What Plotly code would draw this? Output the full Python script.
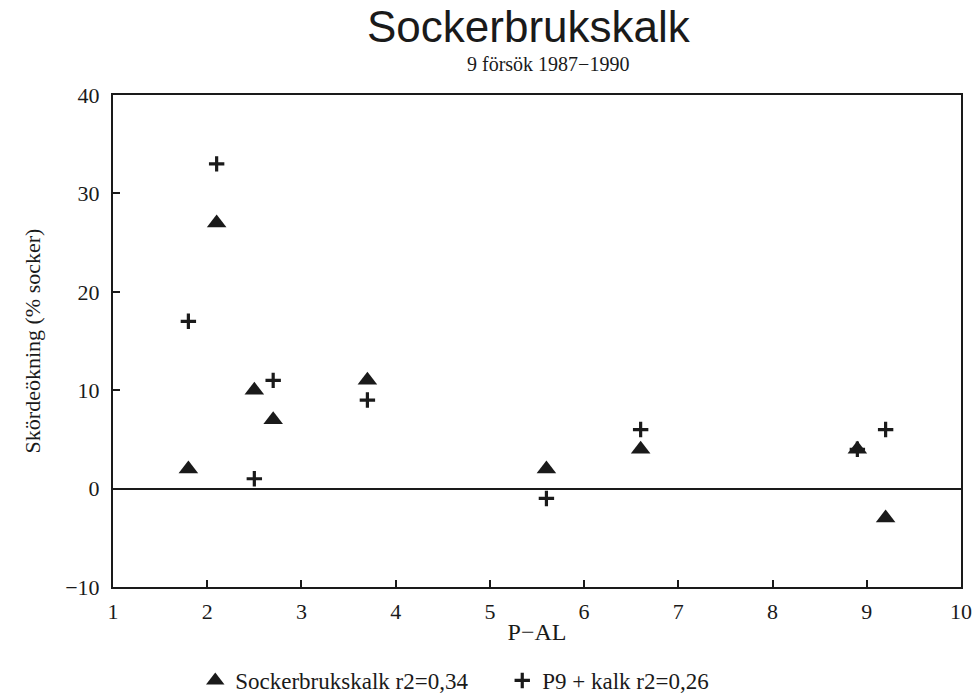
import plotly.graph_objects as go

# Data
p_al = [1.8, 2.1, 2.5, 2.7, 3.7, 5.6, 6.6, 8.9, 9.2]
sockerbrukskalk = [2, 27, 10, 7, 11, 2, 4, 4, -3]
p9_kalk = [17, 33, 1, 11, 9, -1, 6, 4, 6]

x_ticks = [1, 2, 3, 4, 5, 6, 7, 8, 9, 10]
y_ticks = [-10, 0, 10, 20, 30, 40]
y_tick_labels = ["\u221210", "0", "10", "20", "30", "40"]

serif = "Liberation Serif, Times New Roman, serif"
ink = "#1a1a1a"

fig = go.Figure()
fig.add_trace(go.Scatter(
    x=p_al, y=sockerbrukskalk, mode="markers",
    name="Sockerbrukskalk r2=0,34",
    marker=dict(symbol="triangle-up", size=17, color=ink, line=dict(width=0)),
))
fig.add_trace(go.Scatter(
    x=p_al, y=p9_kalk, mode="markers",
    name="P9 + kalk r2=0,26",
    marker=dict(symbol="cross-thin", size=11, color=ink, line=dict(width=3.2, color=ink)),
))

fig.update_layout(
    width=973, height=693,
    margin=dict(l=113, r=12, t=95, b=106, autoexpand=False),
    paper_bgcolor="white", plot_bgcolor="white",
    font=dict(family=serif, size=22, color=ink),
    showlegend=True,
    legend=dict(
        orientation="h", x=0.097, y=-0.19, xanchor="left", yanchor="middle",
        font=dict(family=serif, size=23, color=ink),
        itemwidth=30, entrywidth=262, entrywidthmode="pixels",
        bgcolor="rgba(0,0,0,0)",
    ),
    xaxis=dict(
        range=[1, 10], tickvals=x_ticks, ticktext=[str(t) for t in x_ticks],
        ticks="inside", ticklen=7, tickwidth=1.5, tickcolor=ink,
        showline=True, linewidth=2, linecolor=ink, mirror=True,
        showgrid=False, zeroline=False, ticklabelstandoff=4,
        tickfont=dict(family=serif, size=22, color=ink),
        title=dict(text="P\u2212AL", font=dict(family=serif, size=24, color=ink), standoff=0),
    ),
    yaxis=dict(
        range=[-10, 40], tickvals=y_ticks, ticktext=y_tick_labels,
        ticks="inside", ticklen=7, tickwidth=1.5, tickcolor=ink,
        showline=True, linewidth=2, linecolor=ink, mirror=True,
        showgrid=False, zeroline=True, zerolinecolor=ink, zerolinewidth=1.5,
        ticklabelstandoff=7,
        tickfont=dict(family=serif, size=22, color=ink),
        title=dict(text="Skördeökning (% socker)", font=dict(family=serif, size=22, color=ink), standoff=18),
    ),
    annotations=[
        dict(text="Sockerbrukskalk", xref="paper", yref="paper", x=0.49, y=1.14,
             xanchor="center", yanchor="middle", showarrow=False,
             font=dict(family="Liberation Sans, Arial, sans-serif", size=44, color=ink)),
        dict(text="9 försök 1987\u22121990", xref="paper", yref="paper", x=0.513, y=1.063,
             xanchor="center", yanchor="middle", showarrow=False,
             font=dict(family=serif, size=20, color=ink)),
    ],
)

fig.write_html("out.html")
